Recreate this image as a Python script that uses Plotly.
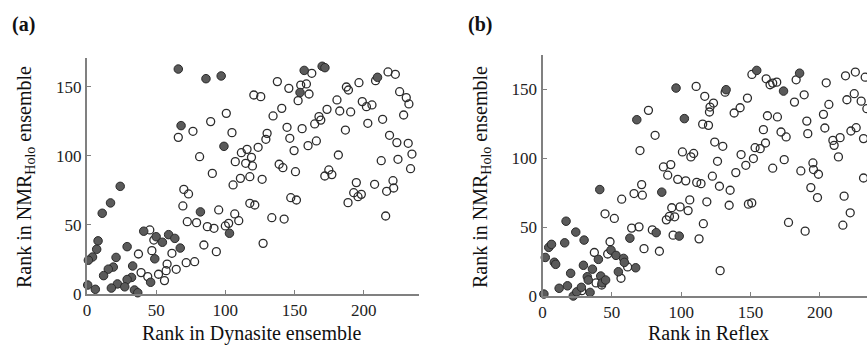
import plotly.graph_objects as go

# ---------------- Panel (a): Dynasite vs NMR_Holo ----------------
a_open_x = [66, 76.6, 89.4, 100.7, 104.8, 81.4, 90.6, 105.6, 110.9, 107.2, 111.6, 115.7, 114.7,
            70, 73.4, 69.3, 72.5, 79.2, 87, 91.8, 95.2, 100, 102.4, 106.8, 109.7, 84.5, 93.5,
            45.4, 48.3, 46.9, 37.2, 61.4, 57.9, 57.2, 39.1, 43.9, 51.7, 56, 64.5, 71.7, 77.8,
            162.5, 137.6, 145.9, 154.5, 158.6, 160.5, 152.6, 120.6, 125.6, 140.8, 134.5, 144.6,
            155.5, 164.6, 167.7, 169, 173.5, 180.7, 187.5, 189, 196.6, 182.7, 190.6, 199, 202,
            206, 203, 213.7, 217.6, 222.9, 208.6, 226, 230.8, 232.7, 228.9, 186.8, 130.2, 129.3,
            123.7, 146.6, 149.7, 159.8, 165.8, 181.7, 118.9, 119.6, 117.7, 126.6, 138.9, 141.6,
            150.7, 171.9, 174.8, 177, 194.7, 192.8, 198.3, 195.9, 188.7, 207.9, 212.7, 218.7,
            224, 232.2, 234.9, 224.8, 233.9, 221.2, 216.6, 221.7, 215.9, 147.3, 151.4, 133.6,
            142.5, 127.3, 117.7, 121.3]
a_open_y = [113.5, 117.9, 124.9, 130.9, 116.9, 99.5, 87.4, 79, 83.8, 95.9, 102.4, 104.8, 94.7,
            75.8, 72.5, 63.8, 52.4, 51.7, 48.8, 47.6, 60.9, 49.3, 51.2, 58, 53.1, 35.5, 30.7,
            46.4, 39.1, 31.4, 29, 29.5, 21.7, 16.9, 15.5, 12.6, 14.3, 9.7, 17.9, 22.7, 23.4,
            159.9, 153.9, 149, 151.4, 152.2, 144.9, 140.1, 144.2, 143, 134.5, 129, 120.8,
            119.8, 123.2, 128.5, 126, 133.8, 140.6, 150, 147.8, 153.1, 132.6, 131.9, 139.4, 135.7,
            137, 123.7, 126.6, 160.9, 159.2, 154.6, 146.6, 142.3, 137.7, 129.7, 118.8, 116.4, 112.1,
            106.3, 112.8, 103.9, 107.5, 110.9, 100.7, 99, 92.8, 85, 83.1, 94, 91.5,
            88.6, 85.5, 89.9, 86.5, 80.7, 73.4, 72.2, 70.5, 66.2, 79.5, 96.6, 115,
            109.7, 109.2, 101.4, 97.6, 90.8, 82.1, 74.4, 76.8, 56.5, 69.8, 68.1, 55.3,
            54.3, 36.7, 65.7, 64.5]
a_fill_x = [66, 86, 97, 68, 99, 24, 17, 11, 82, 103, 41, 50, 54.5, 59, 63.5, 67.4, 8, 7, 4, 1,
            29, 21, 19, 15.4, 12, 33, 49, 46, 32.2, 29, 22, 17.6, 27.3, 34.3, 36.7, 0.5, 6,
            157, 170, 172, 154, 210]
a_fill_y = [163, 156, 158, 122, 107, 78, 66, 58.5, 59.5, 44, 45.5, 41.5, 37.5, 43, 40.3, 33.3,
            38.5, 32.4, 26.8, 24.5, 34.3, 26.5, 19.5, 18, 13.3, 20.3, 25.5, 8.5, 12, 10.5, 7.3,
            4.3, 5.2, 2.9, 0.9, 6.5, 3.4,
            162, 165, 164, 146, 157]

# ---------------- Panel (b): Reflex vs NMR_Holo ----------------
b_open_x = [110.8, 117, 76.4, 115.5, 81.2, 70.3, 100.9, 107, 109, 87.2, 92.5, 90.3, 97.5, 103.3,
            111.2, 114.3, 71.5, 66, 72, 57.1, 106.2, 99.2, 105, 93.2, 89.3, 91.5, 95.3, 45.1,
            51.8, 64.3, 69.6, 79.2, 94.2, 112.9, 116, 73.2, 84.3, 48.7, 37.4, 47, 61.4, 56.6,
            38.6, 42.7, 28.3,
            151, 161.3, 164.1, 166, 168.9, 182.9, 131.7, 123.3, 120.8, 120.4, 147.8, 138.2,
            142.5, 162.2, 169.4, 181.7, 188.7, 204.6, 218.5, 225.6, 232.7, 224.8, 219.5, 229.8,
            206.5, 202.6, 203.6, 190.6, 191.3, 159.3, 172, 175.7, 153.3, 157, 160.8, 119.7,
            124.2, 130, 126.2, 143.2, 146.6, 152.1, 139.4, 166, 174.3, 186.3, 195, 195.4, 199,
            193.5, 198.3, 209.4, 210.3, 214.6, 222.4, 226.2, 231.5, 213.4, 231.5, 217.5, 221.9,
            216.6, 122.5, 127.6, 135.3, 118.5, 134.6, 148.5, 150.9, 177.4, 189.4, 128.1, 233.9]
b_open_y = [152.2, 145, 134.8, 124.8, 116.7, 105.6, 104.6, 101, 103.5, 93.7, 95.4, 87.7, 84.7, 83.6,
            82.5, 81.6, 80.9, 74.4, 73.2, 70.3, 69.8, 64.7, 62, 64.1, 55.3, 57.8, 57.5, 59.7,
            56.3, 49.3, 50.2, 48, 44.2, 41.5, 52.5, 34.4, 32.5, 39.4, 31.6, 30.5, 21.1, 12.9,
            9.5, 8, 3.9,
            160.9, 157.7, 153.4, 154.6, 155.3, 157, 148, 140.1, 137.2, 133.6, 143.7, 132.9,
            136.7, 130.9, 130, 140.8, 146.1, 154.8, 159.9, 162.6, 158.9, 146.9, 142.5, 141.5,
            139.1, 131.9, 122, 127, 117.9, 120.8, 119.1, 115.5, 107.7, 107, 111.1, 123.9,
            111.8, 108.7, 97.8, 102.7, 94.9, 99.8, 89.6, 92.8, 99, 90.8, 96.6, 91.8, 88.4,
            78.7, 71.5, 113, 109.4, 115, 119.8, 122.2, 114.3, 101, 85.7, 72.5, 60.4,
            51.4, 87, 79.7, 76.8, 68.4, 65.9, 66.7, 67.6, 53.4, 47.1, 18.4, 136]
b_fill_x = [1, 2, 4.5, 6.5, 8.5, 9.5, 12, 18, 20.3, 16, 17, 24, 30, 22.2, 24.7, 28, 29.5, 34.3,
            36, 40.3, 41.3, 42, 43, 45.5, 32.3, 33, 49.4, 53, 54.7, 58.5, 59, 63, 67.2, 68, 82,
            86, 96.3, 98.6, 102.3, 132.4, 154.5, 173.8, 185.4]
b_fill_y = [1.4, 28, 35.3, 37.5, 24.5, 23, 5.6, 7.4, 16.5, 38.6, 54.3, 46.4, 40.6, 0, 3, 6.3, 22.3,
            2.6, 19.5, 26.6, 77.3, 14.5, 9.5, 11.6, 14, 11.6, 33.3, 29.5, 17.6, 27.3, 24.4, 42,
            20.5, 128, 46, 75.4, 151, 43.5, 128.8, 149.8, 163.8, 148.8, 161.8]

x_ticks = [0, 50, 100, 150, 200]
y_ticks = [0, 50, 100, 150]
panel_labels = ["(a)", "(b)"]
x_titles = ["Rank in Dynasite ensemble", "Rank in Reflex"]
y_title = "Rank in NMR<sub>Holo</sub> ensemble"

W, H = 867, 345
FONT = "Liberation Serif"
AXC = "#808080"
OPEN_C = "#2b2b2b"
FILL_C = "#5a5a5a"

fig = go.Figure()

def add_panel(ox, oy, fx, fy, xa, ya):
    fig.add_trace(go.Scatter(x=ox, y=oy, mode="markers", xaxis=xa, yaxis=ya,
                             cliponaxis=False, showlegend=False, hoverinfo="skip",
                             marker=dict(symbol="circle", size=8, color="rgba(0,0,0,0)",
                                         line=dict(color=OPEN_C, width=1.3))))
    fig.add_trace(go.Scatter(x=fx, y=fy, mode="markers", xaxis=xa, yaxis=ya,
                             cliponaxis=False, showlegend=False, hoverinfo="skip",
                             marker=dict(symbol="circle", size=8.5, color=FILL_C,
                                         line=dict(color="#2a2a2a", width=1))))

add_panel(a_open_x, a_open_y, a_fill_x, a_fill_y, "x", "y")
add_panel(b_open_x, b_open_y, b_fill_x, b_fill_y, "x2", "y2")

# pixel geometry of the two plot areas
A = dict(l=87, r=419, t=58, b=294)
B = dict(l=542.5, r=867, t=55, b=296)

def px_x(v):
    return v / W

def px_y(v):
    return (H - v) / H

axis_common = dict(showgrid=False, zeroline=False, showline=True, linecolor=AXC, linewidth=2,
                   ticks="inside", ticklen=4, tickwidth=1, tickcolor=AXC,
                   tickfont=dict(family=FONT, size=17, color="#222"), fixedrange=True)

fig.update_layout(
    width=W, height=H, template="none",
    paper_bgcolor="white", plot_bgcolor="white",
    margin=dict(l=0, r=0, t=0, b=0),
    xaxis=dict(domain=[px_x(A["l"]), px_x(A["r"])], range=[0, 240], tickvals=x_ticks,
               anchor="y", **axis_common),
    yaxis=dict(domain=[px_y(A["b"]), px_y(A["t"])], range=[0, 171], tickvals=y_ticks,
               anchor="x", **axis_common),
    xaxis2=dict(domain=[px_x(B["l"]), px_x(B["r"])], range=[0, 234], tickvals=x_ticks,
                anchor="y2", **axis_common),
    yaxis2=dict(domain=[px_y(B["b"]), px_y(B["t"])], range=[0, 175], tickvals=y_ticks,
                anchor="x2", **axis_common),
)

ann = []
# panel labels
for lab, x in zip(panel_labels, [23, 480]):
    ann.append(dict(text="<b>" + lab + "</b>", x=px_x(x), y=px_y(24), xref="paper", yref="paper",
                    showarrow=False, xanchor="center", yanchor="middle",
                    font=dict(family=FONT, size=20, color="#111")))
# x titles
for t, x in zip(x_titles, [252, 708]):
    ann.append(dict(text=t, x=px_x(x), y=px_y(333), xref="paper", yref="paper",
                    showarrow=False, xanchor="center", yanchor="middle",
                    font=dict(family=FONT, size=20, color="#111")))
# y titles
for x in [26, 482]:
    ann.append(dict(text=y_title, x=px_x(x), y=px_y(177), xref="paper", yref="paper",
                    showarrow=False, xanchor="center", yanchor="middle", textangle=-90,
                    font=dict(family=FONT, size=20, color="#111")))
fig.update_layout(annotations=ann)

fig.write_html("out.html", config={"displayModeBar": False},
               post_script="document.body.style.margin='0';")
